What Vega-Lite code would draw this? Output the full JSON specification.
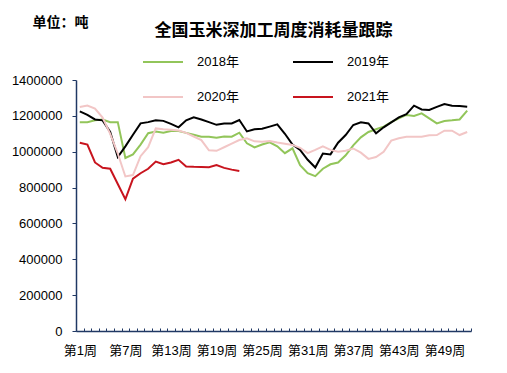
{
  "$schema": "https://vega.github.io/schema/vega-lite/v6.json",
  "width": 395,
  "height": 251,
  "autosize": {"type": "none"},
  "padding": {"left": 76, "top": 80, "right": 36, "bottom": 42},
  "background": "white",
  "config": {
    "view": {"stroke": null},
    "font": "Liberation Sans, Noto Sans CJK SC, sans-serif"
  },
  "title": {
    "text": "全国玉米深加工周度消耗量跟踪",
    "font": "Noto Sans CJK SC",
    "fontSize": 17,
    "fontWeight": "bold",
    "color": "#000000",
    "anchor": "middle",
    "frame": "group",
    "offset": -25
  },
  "data": {
    "values": [
      {"w": 1, "2018年": 1165000, "2019年": 1225000, "2020年": 1250000, "2021年": 1050000},
      {"w": 2, "2018年": 1165000, "2019年": 1205000, "2020年": 1258000, "2021年": 1040000},
      {"w": 3, "2018年": 1175000, "2019年": 1180000, "2020年": 1240000, "2021年": 940000},
      {"w": 4, "2018年": 1180000, "2019年": 1175000, "2020年": 1190000, "2021年": 910000},
      {"w": 5, "2018年": 1165000, "2019年": 1110000, "2020年": 1100000, "2021年": 905000},
      {"w": 6, "2018年": 1165000, "2019年": 970000, "2020年": 990000, "2021年": 820000},
      {"w": 7, "2018年": 965000, "2019年": 1030000, "2020年": 862000, "2021年": 735000},
      {"w": 8, "2018年": 985000, "2019年": 1095000, "2020年": 870000, "2021年": 850000},
      {"w": 9, "2018年": 1040000, "2019年": 1158000, "2020年": 975000, "2021年": 880000},
      {"w": 10, "2018年": 1103000, "2019年": 1165000, "2020年": 1025000, "2021年": 905000},
      {"w": 11, "2018年": 1112000, "2019年": 1175000, "2020年": 1130000, "2021年": 945000},
      {"w": 12, "2018年": 1106000, "2019年": 1172000, "2020年": 1125000, "2021年": 930000},
      {"w": 13, "2018年": 1115000, "2019年": 1155000, "2020年": 1122000, "2021年": 940000},
      {"w": 14, "2018年": 1115000, "2019年": 1136000, "2020年": 1118000, "2021年": 955000},
      {"w": 15, "2018年": 1105000, "2019年": 1175000, "2020年": 1105000, "2021年": 918000},
      {"w": 16, "2018年": 1095000, "2019年": 1192000, "2020年": 1085000, "2021年": 916000},
      {"w": 17, "2018年": 1084000, "2019年": 1180000, "2020年": 1065000, "2021年": 915000},
      {"w": 18, "2018年": 1084000, "2019年": 1165000, "2020年": 1008000, "2021年": 913000},
      {"w": 19, "2018年": 1078000, "2019年": 1150000, "2020年": 1005000, "2021年": 925000},
      {"w": 20, "2018年": 1085000, "2019年": 1157000, "2020年": 1025000, "2021年": 910000},
      {"w": 21, "2018年": 1084000, "2019年": 1158000, "2020年": 1045000, "2021年": 900000},
      {"w": 22, "2018年": 1106000, "2019年": 1177000, "2020年": 1065000, "2021年": 893000},
      {"w": 23, "2018年": 1047000, "2019年": 1113000, "2020年": 1075000},
      {"w": 24, "2018年": 1024000, "2019年": 1125000, "2020年": 1058000},
      {"w": 25, "2018年": 1040000, "2019年": 1128000, "2020年": 1056000},
      {"w": 26, "2018年": 1052000, "2019年": 1140000, "2020年": 1060000},
      {"w": 27, "2018年": 1030000, "2019年": 1153000, "2020年": 1052000},
      {"w": 28, "2018年": 992000, "2019年": 1100000, "2020年": 1045000},
      {"w": 29, "2018年": 1019000, "2019年": 1040000, "2020年": 1038000},
      {"w": 30, "2018年": 925000, "2019年": 1010000, "2020年": 1022000},
      {"w": 31, "2018年": 880000, "2019年": 955000, "2020年": 992000},
      {"w": 32, "2018年": 864000, "2019年": 912000, "2020年": 1010000},
      {"w": 33, "2018年": 905000, "2019年": 990000, "2020年": 1030000},
      {"w": 34, "2018年": 930000, "2019年": 985000, "2020年": 1010000},
      {"w": 35, "2018年": 940000, "2019年": 1050000, "2020年": 1000000},
      {"w": 36, "2018年": 980000, "2019年": 1093000, "2020年": 1005000},
      {"w": 37, "2018年": 1035000, "2019年": 1149000, "2020年": 1018000},
      {"w": 38, "2018年": 1080000, "2019年": 1164000, "2020年": 995000},
      {"w": 39, "2018年": 1110000, "2019年": 1158000, "2020年": 960000},
      {"w": 40, "2018年": 1125000, "2019年": 1103000, "2020年": 970000},
      {"w": 41, "2018年": 1140000, "2019年": 1136000, "2020年": 1000000},
      {"w": 42, "2018年": 1165000, "2019年": 1164000, "2020年": 1062000},
      {"w": 43, "2018年": 1186000, "2019年": 1192000, "2020年": 1075000},
      {"w": 44, "2018年": 1205000, "2019年": 1210000, "2020年": 1084000},
      {"w": 45, "2018年": 1199000, "2019年": 1257000, "2020年": 1084000},
      {"w": 46, "2018年": 1214000, "2019年": 1236000, "2020年": 1084000},
      {"w": 47, "2018年": 1186000, "2019年": 1233000, "2020年": 1092000},
      {"w": 48, "2018年": 1158000, "2019年": 1250000, "2020年": 1093000},
      {"w": 49, "2018年": 1171000, "2019年": 1266000, "2020年": 1117000},
      {"w": 50, "2018年": 1175000, "2019年": 1257000, "2020年": 1117000},
      {"w": 51, "2018年": 1180000, "2019年": 1255000, "2020年": 1093000},
      {"w": 52, "2018年": 1229000, "2019年": 1251000, "2020年": 1110000}
    ]
  },
  "transform": [
    {"fold": ["2018年", "2019年", "2020年", "2021年"], "as": ["year", "value"]},
    {"filter": "isValid(datum.value)"}
  ],
  "mark": {"type": "line", "strokeWidth": 2, "interpolate": "linear"},
  "encoding": {
    "x": {
      "field": "w",
      "type": "quantitative",
      "scale": {"domain": [0.5, 52.5], "nice": false, "zero": false},
      "axis": {
        "title": null,
        "grid": false,
        "values": [0.5,1.5,2.5,3.5,4.5,5.5,6.5,7.5,8.5,9.5,10.5,11.5,12.5,13.5,14.5,15.5,16.5,17.5,18.5,19.5,20.5,21.5,22.5,23.5,24.5,25.5,26.5,27.5,28.5,29.5,30.5,31.5,32.5,33.5,34.5,35.5,36.5,37.5,38.5,39.5,40.5,41.5,42.5,43.5,44.5,45.5,46.5,47.5,48.5,49.5,50.5,51.5,52.5],
        "labelExpr": "((datum.value - 0.5) % 6 == 0 && datum.value < 52) ? '第' + (datum.value + 0.5) + '周' : ''",
        "labelOverlap": false,
        "labelFlush": false,
        "labelBound": false,
        "labelOffset": 3.8,
        "labelFontSize": 13,
        "labelFont": "Liberation Sans, Noto Sans CJK SC",
        "labelColor": "#000000",
        "labelPadding": 16,
        "tickSize": -3,
        "tickColor": "#203864",
        "tickWidth": 1,
        "domainColor": "#203864",
        "domainWidth": 1.5
      }
    },
    "y": {
      "field": "value",
      "type": "quantitative",
      "scale": {"domain": [0, 1400000], "nice": false},
      "axis": {
        "title": "单位：吨",
        "titleAngle": 0,
        "titleX": -44,
        "titleY": -58,
        "titleAlign": "left",
        "titleBaseline": "middle",
        "titleFont": "Noto Sans CJK SC",
        "titleFontSize": 14,
        "titleFontWeight": "bold",
        "titleColor": "#000000",
        "grid": false,
        "values": [0, 200000, 400000, 600000, 800000, 1000000, 1200000, 1400000],
        "format": "d",
        "labelFontSize": 13,
        "labelColor": "#000000",
        "labelPadding": 10,
        "tickSize": 4,
        "tickColor": "#203864",
        "domainColor": "#203864",
        "domainWidth": 1.5
      }
    },
    "color": {
      "field": "year",
      "type": "nominal",
      "scale": {
        "domain": ["2018年", "2019年", "2020年", "2021年"],
        "range": ["#92C55A", "#000000", "#F2C6C6", "#C8141E"]
      },
      "legend": {
        "title": null,
        "orient": "none",
        "direction": "horizontal",
        "legendX": 67,
        "legendY": -27,
        "columns": 2,
        "columnPadding": 50,
        "rowPadding": 19,
        "symbolType": "M-2.5,0H2.5",
        "symbolSize": 256,
        "symbolStrokeWidth": 2,
        "symbolOffset": 11,
        "labelOffset": 25,
        "labelFontSize": 13,
        "labelColor": "#000000",
        "labelFont": "Liberation Sans, Noto Sans CJK SC"
      }
    }
  }
}
